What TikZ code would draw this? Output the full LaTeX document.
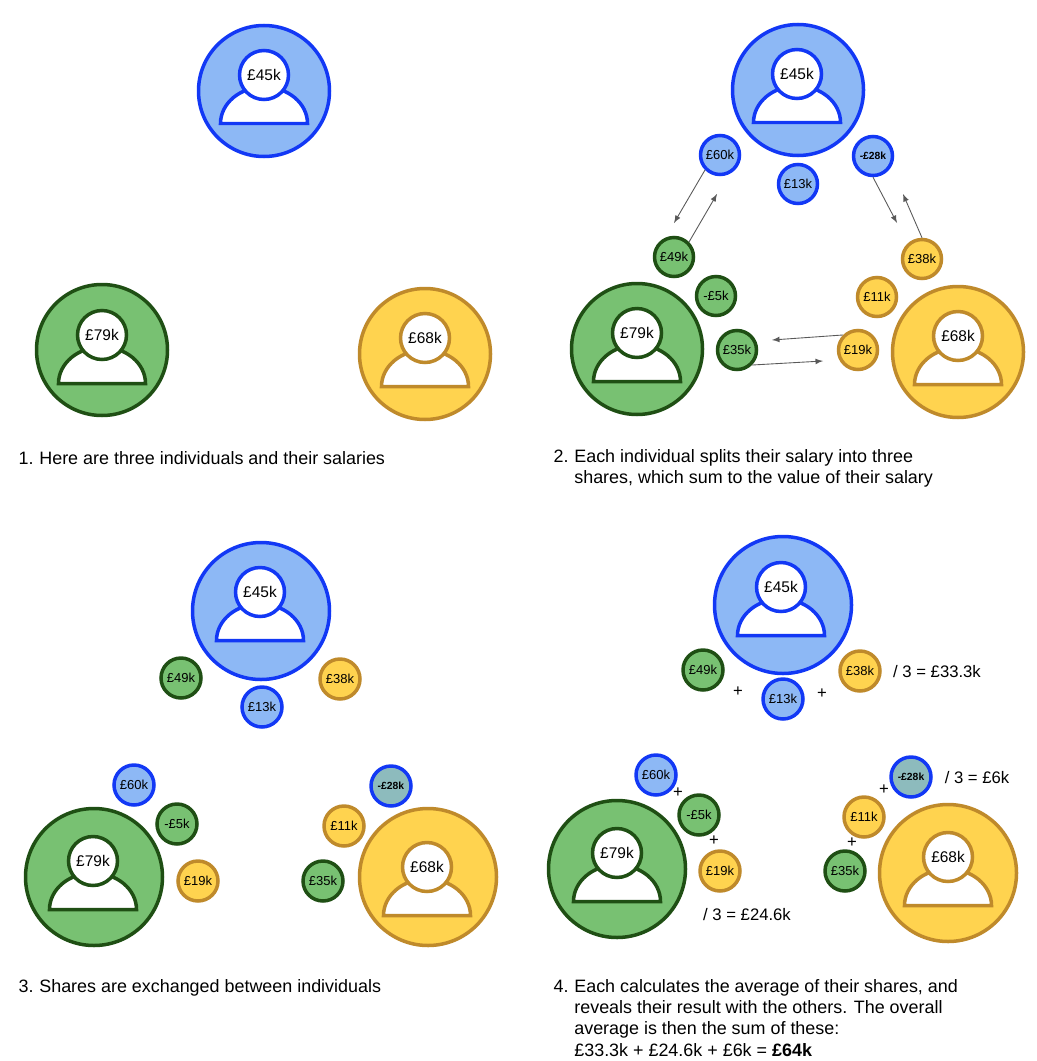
\documentclass[tikz,border=0pt]{standalone}
\usepackage{fontspec}
\setmainfont{Liberation Sans}
\usetikzlibrary{arrows}
\definecolor{blueline}{HTML}{1238F5}
\definecolor{bluefill}{HTML}{8DB8F5}
\definecolor{greenline}{HTML}{1F4F14}
\definecolor{greenfill}{HTML}{78C172}
\definecolor{yellowline}{HTML}{BF8A2B}
\definecolor{yellowfill}{HTML}{FFD34F}
\definecolor{tealfill}{HTML}{8DBBBD}
\definecolor{arrowgrey}{HTML}{595959}
% #1 name, #2 colour, #3,#4 centre, #5 diameter, #6,#7 head, #8 salary
\newcommand{\person}[8]{
\node [big,draw=#2line,fill=#2fill,minimum size=#5*0.02cm] (#1) at (#3,#4) {};
\draw [line width=0.7mm,draw=#2line,fill=white] (#6-43.5,#7+48.5) arc [start angle=180,end angle=360,x radius=43.5,y radius=36.5] -- cycle;
\node [head,draw=#2line] (#1h) at (#6,#7) {#8};
}
\tikzset{
big/.style={circle,line width=0.7mm,inner sep=0pt},
head/.style={circle,line width=0.7mm,inner sep=0pt,fill=white,minimum size=0.98cm,font=\fontsize{8.8}{10}\selectfont},
share/.style={circle,line width=0.7mm,inner sep=0pt,minimum size=0.8cm,font=\fontsize{7.4}{9}\selectfont},
blueshare/.style={share,draw=blueline,fill=bluefill},
greenshare/.style={share,draw=greenline,fill=greenfill},
yellowshare/.style={share,draw=yellowline,fill=yellowfill},
tealshare/.style={share,draw=blueline,fill=tealfill},
negbold/.style={font=\fontsize{5.9}{7}\selectfont\bfseries},
swap/.style={->,draw=arrowgrey,line width=0.5pt},
caption/.style={anchor=north west,inner sep=0pt,align=left,font=\fontsize{10.2}{12.1}\selectfont},
sum/.style={inner sep=0pt,font=\fontsize{9.5}{11}\selectfont},
plus/.style={inner sep=0pt,font=\fontsize{9.5}{10}\selectfont}
}
\begin{document}
\begin{tikzpicture}[>=latex,x=0.02cm,y=-0.02cm]
\useasboundingbox (0,0) rectangle (1036,1061);

% first panel
\person{oa}{blue}{264}{91}{131}{264}{75}{£45k}
\person{ob}{green}{102}{350}{131}{102}{335}{£79k}
\person{oc}{yellow}{425}{354}{131}{425}{338}{£68k}
\node [caption] (capa) at (39,451) {Here are three individuals and their salaries};
\node [caption,anchor=north east] (numa) at (34,451) {\vphantom{h}1.};

% second panel
\person{ta}{blue}{798}{90}{131}{797}{74}{£45k}
\person{tb}{green}{637}{349}{131}{637}{333}{£79k}
\person{tc}{yellow}{958}{352}{131}{958}{336}{£68k}
\node [blueshare,minimum size=0.78cm] (ta60) at (720,155) {£60k};
\node [blueshare,minimum size=0.78cm] (ta13) at (798,184) {£13k};
\node [blueshare,minimum size=0.78cm,negbold] (ta28) at (873,156) {-£28k};
\node [greenshare,minimum size=0.78cm] (tb49) at (674,257) {£49k};
\node [greenshare,minimum size=0.78cm] (tb5) at (716,296) {-£5k};
\node [greenshare,minimum size=0.78cm] (tb35) at (737,350) {£35k};
\node [yellowshare,minimum size=0.78cm] (tc38) at (922,259) {£38k};
\node [yellowshare,minimum size=0.78cm] (tc11) at (877,297) {£11k};
\node [yellowshare,minimum size=0.78cm] (tc19) at (858,350) {£19k};
\coordinate (enda) at (674,223);
\coordinate (endb) at (717,194);
\coordinate (endc) at (897,223);
\coordinate (endd) at (903,194);
\coordinate (ende) at (772,340);
\coordinate (endf) at (823,361);
\draw [swap] (ta60.south west) -- (enda);
\draw [swap] (tb49.north east) -- (endb);
\draw [swap] (ta28.south) -- (endc);
\draw [swap] (tc38.north) -- (endd);
\draw [swap] (tc19.north west) -- (ende);
\draw [swap] (tb35.south east) -- (endf);
\node [caption] (capb) at (574,449) {Each individual splits their salary into three\\shares, which sum to the value of their salary};
\node [caption,anchor=north east] (numb) at (569,449) {\vphantom{h}2.};

% third panel
\person{ra}{blue}{261}{611}{137}{260}{592}{£45k}
\person{rb}{green}{94}{877}{137}{93}{861}{£79k}
\person{rc}{yellow}{428}{877}{137}{427}{867}{£68k}
\node [greenshare] (ra49) at (181,678) {£49k};
\node [blueshare] (ra13) at (262,707) {£13k};
\node [yellowshare] (ra38) at (340,679) {£38k};
\node [blueshare] (rb60) at (134,785) {£60k};
\node [greenshare] (rb5) at (177,824) {-£5k};
\node [yellowshare] (rb19) at (198,881) {£19k};
\node [tealshare,negbold] (rc28) at (391,786) {-£28k};
\node [yellowshare] (rc11) at (344,826) {£11k};
\node [greenshare] (rc35) at (323,881) {£35k};
\node [caption] (capc) at (39,979) {Shares are exchanged between individuals};
\node [caption,anchor=north east] (numc) at (34,979) {\vphantom{h}3.};

% fourth panel
\person{fa}{blue}{783}{605}{137}{781}{587}{£45k}
\person{fb}{green}{617}{869}{137}{617}{853}{£79k}
\person{fc}{yellow}{948}{873}{137}{948}{857}{£68k}
\node [greenshare] (fa49) at (703,670) {£49k};
\node [blueshare] (fa13) at (783,699) {£13k};
\node [yellowshare] (fa38) at (860,671) {£38k};
\node [blueshare] (fb60) at (656,775) {£60k};
\node [greenshare] (fb5) at (699,815) {-£5k};
\node [yellowshare] (fb19) at (720,871) {£19k};
\node [tealshare,negbold] (fc28) at (911,777) {-£28k};
\node [yellowshare] (fc11) at (864,817) {£11k};
\node [greenshare] (fc35) at (845,871) {£35k};
\node [plus] (pla) at (738,692) {+};
\node [plus] (plb) at (822,694) {+};
\node [plus] (plc) at (678,793) {+};
\node [plus] (pld) at (714,841) {+};
\node [plus] (ple) at (884,790) {+};
\node [plus] (plf) at (852,843) {+};
\node [sum] (suma) at (937,672) {/ 3 = £33.3k};
\node [sum] (sumb) at (747,915) {/ 3 = £24.6k};
\node [sum] (sumc) at (977,778) {/ 3 = £6k};
\node [caption] (capd) at (574,979) {Each calculates the average of their shares, and\\reveals their result with the others. The overall\\average is then the sum of these:\\£33.3k + £24.6k + £6k = \textbf{£64k}};
\node [caption,anchor=north east] (numd) at (569,979) {\vphantom{h}4.};
\end{tikzpicture}
\end{document}
